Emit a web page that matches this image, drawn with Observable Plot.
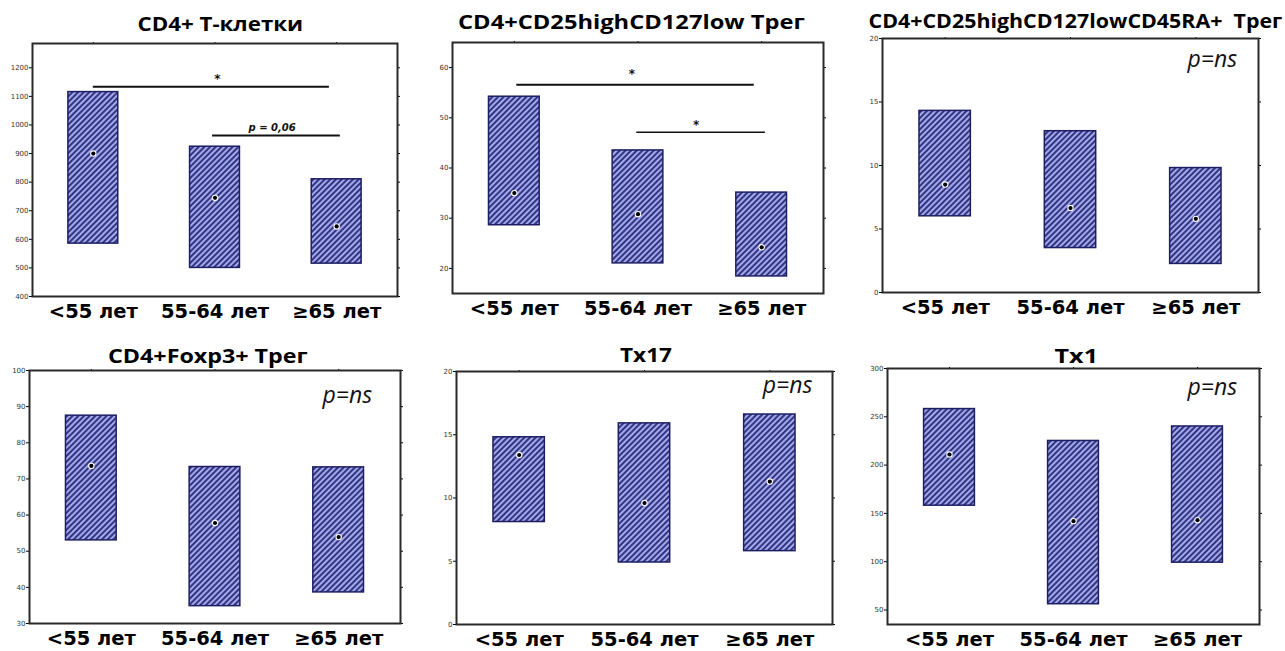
<!DOCTYPE html>
<html><head><meta charset="utf-8">
<script src="https://cdn.jsdelivr.net/npm/d3@7"></script>
<script src="https://cdn.jsdelivr.net/npm/@observablehq/plot@0.6"></script>
<style>
body{margin:0;background:#fff;}
#wrap{position:relative;width:1285px;height:651px;overflow:hidden;background:#fff;}
.panel{position:absolute;}
.panel svg{overflow:visible;}
.title{position:absolute;font-family:"Open Sans",sans-serif;font-weight:700;font-size:20px;line-height:22px;color:#000;white-space:pre;transform-origin:50% 50%;}
</style></head><body>
<div id="wrap">
<svg width="0" height="0" style="position:absolute;left:0;top:0">
  <defs>
    <pattern id="hatch" patternUnits="userSpaceOnUse" width="4" height="4" patternTransform="rotate(45)">
      <rect x="0" y="0" width="4" height="4" fill="#858ade"></rect>
      <rect x="0" y="0" width="1.7" height="4" fill="#262a74"></rect>
      <rect x="2.5" y="0" width="0.6" height="4" fill="#e4e6ff"></rect>
    </pattern>
  </defs>
</svg>
</div>
<script>
const categories = ["<55 лет", "55-64 лет", "≥65 лет"];
const titles = ["CD4+ T-клетки", "CD4+CD25highCD127low Трег", "CD4+CD25highCD127lowCD45RA+  Трег",
                "CD4+Foxp3+ Трег", "Тх17", "Тх1"];
const boxLow  = [[585, 500, 515], [28.6, 21.0, 18.4], [6.0, 3.5, 2.25], [53.0, 34.8, 38.6], [8.1, 4.9, 5.8], [158, 56, 99]];
const boxHigh = [[1115, 924, 810], [54.2, 43.5, 35.1], [14.3, 12.7, 9.8], [87.5, 73.3, 73.2], [14.8, 15.9, 16.6], [258, 225, 240]];
const medians = [[900, 745, 645], [35.0, 30.8, 24.2], [8.5, 6.65, 5.8], [73.6, 57.8, 53.9], [13.4, 9.6, 11.3], [211, 142, 143]];
const yDomains = [[400, 1285], [15, 65], [0, 20], [30, 100], [0, 20], [35, 300]];
const yTicks = [[400, 500, 600, 700, 800, 900, 1000, 1100, 1200], [20, 30, 40, 50, 60], [0, 5, 10, 15, 20],
                [30, 40, 50, 60, 70, 80, 90, 100], [0, 5, 10, 15, 20], [50, 100, 150, 200, 250, 300]];
// significance bars: [from category index, to category index, y value, width]
const sigLines = [[[0, 1.94, 1134, 2], [0.98, 2.03, 963, 2]], [[0.02, 1.94, 56.6, 2], [0.99, 2.03, 47.1, 1.5]], [], [], [], []];
const sigLabels = [[[1.02, 1160, "*"], [1.47, 990, "p = 0,06"]], [[0.95, 58.6, "*"], [1.47, 48.6, "*"]], [], [], [], []];
const pLabels = [null, null, ["p=ns", 2.33, 18.3], ["p=ns", 2.27, 93.1], ["p=ns", 2.34, 18.9], ["p=ns", 2.32, 280]];
// layout: frame rectangle of each panel [left, top, right, bottom], title centre [x, y] and title width
const frames = [[32, 43, 397, 296], [452, 42, 823, 293], [882, 38, 1258, 292],
                [29, 370, 400, 623], [456, 371, 832, 624], [887, 368, 1259, 624]];
const titlePos = [[220, 25], [631, 23], [1075, 22], [208, 357], [646, 356], [1076, 357]];
const titleWidth = [166, 347, 414, 200, 52, 44];

const wrap = document.getElementById("wrap");
const mL = 30, mR = 6, mT = 6, mB = 32, hw = 0.205;

for (let p = 0; p < 6; p++) {
  const [fx1, fy1, fx2, fy2] = frames[p];
  const rows = categories.map((c, i) => ({i, lo: boxLow[p][i], hi: boxHigh[p][i], med: medians[p][i]}));
  const lines = sigLines[p].map(([x1, x2, y, w]) => ({x1, x2, y, w}));
  const labs = sigLabels[p].map(([x, y, t]) => ({x, y, t}));
  const marks = [
    Plot.rect(rows, {x1: d => d.i - hw, x2: d => d.i + hw, y1: "lo", y2: "hi", fill: "url(#hatch)", stroke: "#1d1f62", strokeWidth: 1.5}),
    Plot.dot(rows, {x: "i", y: "med", r: 3.2, fill: "white"}),
    Plot.dot(rows, {x: "i", y: "med", r: 2.1, fill: "black"}),
    Plot.ruleY(lines, {x1: "x1", x2: "x2", y: "y", stroke: "#111", strokeWidth: "w"}),
    Plot.text(labs.filter(d => d.t === "*"), {x: "x", y: "y", text: "t", fontSize: 12, fontWeight: "bold", fill: "#111"}),
    Plot.text(labs.filter(d => d.t !== "*"), {x: "x", y: "y", text: "t", fontSize: 10, fontWeight: "bold", fontStyle: "italic", fill: "#111"}),
    Plot.axisY({ticks: yTicks[p], tickSize: 3, tickPadding: 1, fontSize: 7, tickFormat: d => String(d), label: null, fill: "#333"}),
    Plot.axisY({anchor: "right", ticks: yTicks[p], tickSize: 2, tickFormat: () => "", label: null}),
    Plot.axisX({ticks: [0, 1, 2], tickFormat: i => categories[i], tickSize: 0, tickPadding: 8, fontSize: 19.5, fontWeight: "bold", fontFamily: "DejaVu Sans", label: null, fill: "#000"}),
    Plot.axisX({anchor: "top", ticks: [0, 1, 2], tickSize: 2, tickFormat: () => "", label: null}),
    Plot.frame({stroke: "#2a2a2a", strokeWidth: 2})
  ];
  if (pLabels[p]) {
    const [t, x, y] = pLabels[p];
    marks.push(Plot.text([{t, x, y}], {x: "x", y: "y", text: "t", textAnchor: "end", fontSize: 23, fontStyle: "italic", fontFamily: "Open Sans", fill: "#111"}));
  }
  const chart = Plot.plot({
    width: fx2 - fx1 + mL + mR,
    height: fy2 - fy1 + mT + mB,
    marginLeft: mL, marginRight: mR, marginTop: mT, marginBottom: mB,
    x: {type: "linear", domain: [-0.5, 2.5], axis: null},
    y: {domain: yDomains[p], axis: null},
    style: {background: "transparent", overflow: "visible", fontFamily: "DejaVu Sans"},
    marks
  });
  const div = document.createElement("div");
  div.className = "panel";
  div.style.left = (fx1 - mL) + "px";
  div.style.top = (fy1 - mT) + "px";
  div.appendChild(chart);
  wrap.appendChild(div);
  const t = document.createElement("div");
  t.className = "title";
  t.textContent = titles[p];
  wrap.appendChild(t);
  const w = t.offsetWidth;
  t.style.left = (titlePos[p][0] - w / 2) + "px";
  t.style.top = (titlePos[p][1] - 12) + "px";
  t.style.transform = `scaleX(${titleWidth[p] / w})`;
}
</script>
</body></html>
